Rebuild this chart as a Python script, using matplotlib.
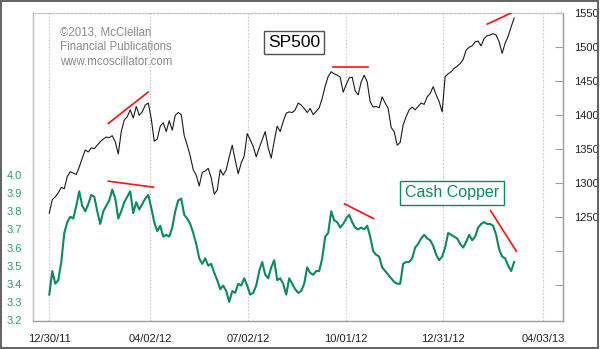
import numpy as np
import pandas as pd
import matplotlib
matplotlib.use("Agg")
import matplotlib.pyplot as plt
from matplotlib.patches import Rectangle

plt.rcParams['font.family'] = ['Liberation Sans', 'DejaVu Sans']

# values, roughly every 2 trading days
start_date = "2011-12-30"
end_date = "2013-03-07"

sp500 = [1256, 1276, 1280, 1286, 1294, 1292, 1310, 1317, 1315, 1313,
         1324, 1337, 1349, 1346, 1352, 1351, 1356, 1361, 1365, 1368,
         1367, 1370, 1361, 1343, 1376, 1393, 1398, 1408, 1396, 1413,
         1400, 1405, 1415, 1418, 1395, 1362, 1365, 1384, 1389, 1376,
         1392, 1378, 1400, 1404, 1401, 1370, 1356, 1340, 1320, 1312,
         1296, 1316, 1318, 1322, 1308, 1284, 1290, 1320, 1312, 1320,
         1339, 1356, 1334, 1314, 1330, 1340, 1373, 1364, 1354, 1339,
         1352, 1364, 1376, 1352, 1337, 1362, 1384, 1376, 1391, 1403,
         1405, 1404, 1408, 1418, 1415, 1410, 1404, 1410, 1401, 1406,
         1411, 1425, 1443, 1457, 1464, 1461, 1459, 1456, 1434, 1445,
         1455, 1456, 1436, 1430, 1449, 1459, 1449, 1420, 1412, 1413,
         1411, 1427, 1418, 1410, 1382, 1376, 1356, 1360, 1386, 1398,
         1408, 1412, 1408, 1413, 1418, 1416, 1427, 1432, 1442, 1430,
         1420, 1405, 1457, 1461, 1464, 1469, 1472, 1476, 1482, 1496,
         1500, 1502, 1508, 1509, 1502, 1513, 1517, 1518, 1520, 1518,
         1508, 1491, 1506, 1516, 1530, 1543]

copper = [3.34, 3.47, 3.40, 3.42, 3.52, 3.68, 3.74, 3.77, 3.76, 3.83,
          3.91, 3.83, 3.80, 3.84, 3.89, 3.88, 3.80, 3.73, 3.80, 3.83,
          3.86, 3.92, 3.87, 3.76, 3.80, 3.85, 3.88, 3.91, 3.79, 3.85,
          3.81, 3.84, 3.87, 3.89, 3.82, 3.74, 3.69, 3.72, 3.66, 3.67,
          3.66, 3.71, 3.80, 3.86, 3.87, 3.78, 3.76, 3.73, 3.68, 3.62,
          3.54, 3.51, 3.54, 3.50, 3.51, 3.46, 3.42, 3.37, 3.39, 3.36,
          3.30, 3.36, 3.35, 3.40, 3.39, 3.43, 3.39, 3.34, 3.35, 3.39,
          3.47, 3.52, 3.45, 3.43, 3.49, 3.53, 3.42, 3.43, 3.40, 3.34,
          3.43, 3.40, 3.37, 3.35, 3.36, 3.40, 3.49, 3.46, 3.45, 3.47,
          3.47, 3.54, 3.66, 3.68, 3.80, 3.75, 3.74, 3.71, 3.73, 3.76,
          3.78, 3.74, 3.71, 3.70, 3.71, 3.70, 3.72, 3.66, 3.58, 3.56,
          3.55, 3.49, 3.47, 3.45, 3.43, 3.41, 3.40, 3.40, 3.51, 3.52,
          3.52, 3.54, 3.60, 3.62, 3.65, 3.67, 3.65, 3.64, 3.61, 3.56,
          3.53, 3.55, 3.60, 3.68, 3.67, 3.66, 3.65, 3.62, 3.60, 3.63,
          3.67, 3.64, 3.66, 3.71, 3.73, 3.74, 3.73, 3.73, 3.72, 3.67,
          3.59, 3.55, 3.54, 3.50, 3.47, 3.52]

# red divergence lines: (date0, date1, value0, value1)
sp_trends = [("2012-02-23", "2012-03-31", 1388, 1434),
             ("2012-09-19", "2012-10-22", 1471, 1471),
             ("2013-02-10", "2013-03-09", 1534, 1554)]
cu_trends = [("2012-02-23", "2012-04-05", 3.966, 3.933),
             ("2012-09-30", "2012-10-27", 3.841, 3.760),
             ("2013-02-13", "2013-03-09", 3.804, 3.580)]

xtick_dates = ["2011-12-30", "2012-04-02", "2012-07-02",
               "2012-10-01", "2012-12-31", "2013-04-03"]
xtick_labels = ["12/30/11", "04/02/12", "07/02/12",
                "10/01/12", "12/31/12", "04/03/13"]
cu_ticks = [3.2, 3.3, 3.4, 3.5, 3.6, 3.7, 3.8, 3.9, 4.0]
sp_ticks = [1150, 1200, 1250, 1300, 1350, 1400, 1450, 1500, 1550]

dates = pd.date_range(start_date, end_date, periods=len(sp500))

green = '#0b8a5f'
tick_green = '#2e9a78'

fig = plt.figure(figsize=(6.0, 3.49), dpi=100)
fig.patch.set_facecolor('white')
ax = fig.add_axes([0.055, 0.0802, 0.883, 0.8826])
ax2 = ax.twinx()

ax.plot(dates, copper, color=green, lw=1.5, zorder=3)
ax2.plot(dates, sp500, color='#1a1a1a', lw=0.8, zorder=3)
for d0, d1, v0, v1 in cu_trends:
    ax.plot(pd.to_datetime([d0, d1]), [v0, v1], color='#ff1010', lw=1.2, zorder=4)
for d0, d1, v0, v1 in sp_trends:
    ax2.plot(pd.to_datetime([d0, d1]), [v0, v1], color='#ff1010', lw=1.2, zorder=4)

ax.set_xlim(pd.Timestamp("2011-12-14 20:00"), pd.Timestamp("2013-04-21 08:00"))
ax.set_ylim(3.1945, 4.894)
ax2.set_ylim(1097.5, 1550.4)

ax.set_xticks(pd.to_datetime(xtick_dates))
ax.set_xticklabels(xtick_labels)
ax.set_yticks(cu_ticks)
ax.set_yticklabels(["%.1f" % v for v in cu_ticks])
ax2.set_yticks(sp_ticks)
ax2.set_yticklabels(["" if v < 1250 else str(v) for v in sp_ticks])

ax.tick_params(axis='x', length=0, pad=9, labelsize=8, labelcolor='#222222')
ax.tick_params(axis='y', length=0, pad=8, labelsize=8, labelcolor=tick_green)
ax2.tick_params(axis='y', direction='in', length=6, width=0.8, color='#a0a0a0',
                pad=8, labelsize=8, labelcolor='#222222')

ax.grid(axis='x', color='#c8c8c8', ls=(0, (1.5, 1.5)), lw=0.8)
for a in (ax, ax2):
    a.spines['top'].set_color('#c8c8c8')
    a.spines['top'].set_linestyle((0, (1.5, 1.5)))
    a.spines['left'].set_color('#c0c0c0')
    a.spines['right'].set_color('#a0a0a0')
    a.spines['bottom'].set_color('#a0a0a0')
    for s in a.spines.values():
        s.set_linewidth(0.9)

gray = '#8a8a8a'
for i, line in enumerate(["\u00a92013, McClellan", "Financial Publications",
                          "www.mcoscillator.com"]):
    fig.text(60 / 600, 1 - (32.3 + 15 * i) / 349, line, color=gray,
             fontsize=8.3, va='center', ha='left')

fig.text(294 / 600, 1 - 42.5 / 349, "SP500", fontsize=12.5, color='black',
         ha='center', va='center',
         bbox=dict(boxstyle='square,pad=0.25', fc='white', ec='#505050', lw=1))
fig.text(452.3 / 600, 1 - 192.9 / 349, "Cash Copper", fontsize=11.5, color=green,
         ha='center', va='center', zorder=5,
         bbox=dict(boxstyle='square,pad=0.3', fc='white', ec=green, lw=1))

fig.patches.append(Rectangle((0.002, 0.003), 0.995, 0.993, transform=fig.transFigure,
                             fill=False, ec='#555555', lw=1.3))

fig.savefig("out.png", dpi=100, facecolor='white')
